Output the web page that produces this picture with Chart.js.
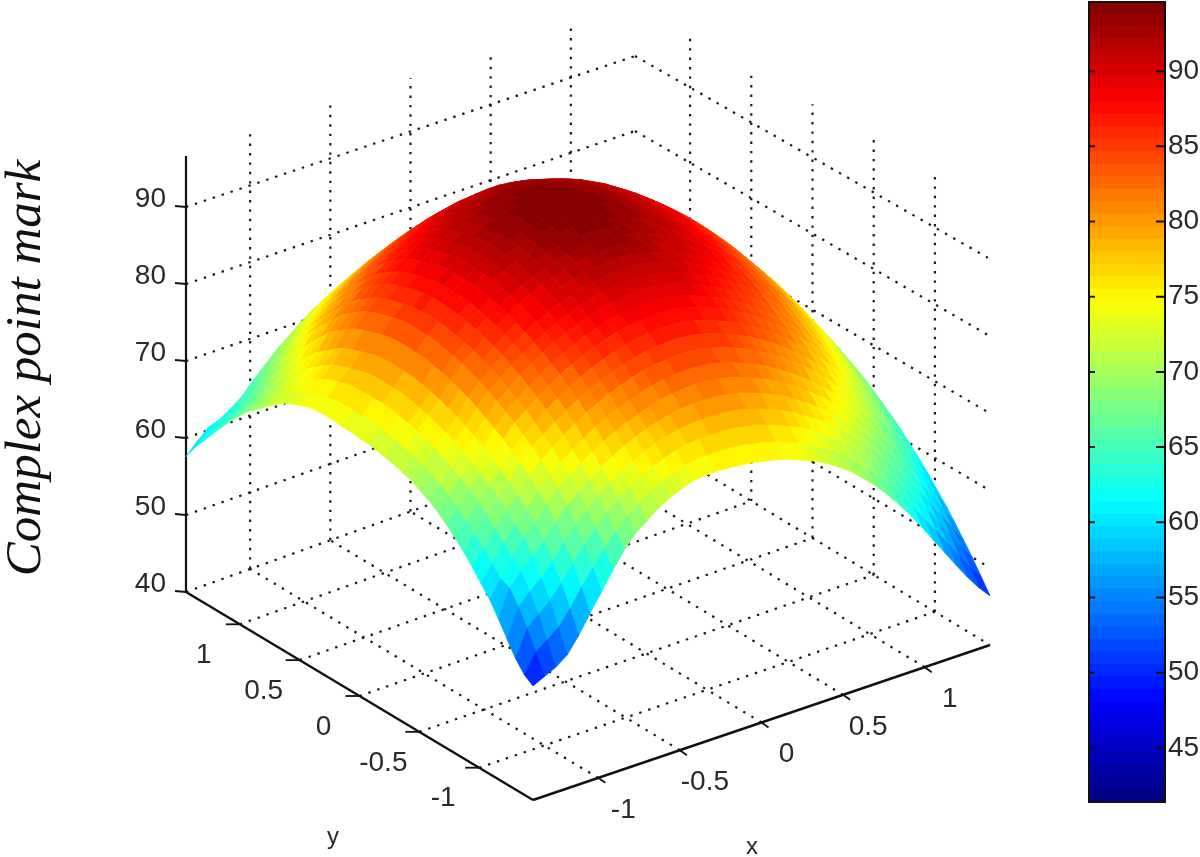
<!DOCTYPE html>
<html><head><meta charset="utf-8">
<style>html,body{margin:0;padding:0;background:#fff;width:1200px;height:857px;overflow:hidden}
canvas{position:absolute;top:0}</style>
<script src="https://cdn.jsdelivr.net/npm/chart.js@4"></script></head>
<body>
<canvas id="main" width="1085" height="857" style="left:0"></canvas>
<canvas id="bar" width="115" height="857" style="left:1085px"></canvas>
<script>
const xGrid=[-1.4,-1.33,-1.26,-1.19,-1.12,-1.05,-0.98,-0.91,-0.84,-0.77,-0.7,-0.63,-0.56,-0.49,-0.42,-0.35,-0.28,-0.21,-0.14,-0.07,0,0.07,0.14,0.21,0.28,0.35,0.42,0.49,0.56,0.63,0.7,0.77,0.84,0.91,0.98,1.05,1.12,1.19,1.26,1.33,1.4];
const yGrid=[-1.45,-1.3775,-1.305,-1.2325,-1.16,-1.0875,-1.015,-0.9425,-0.87,-0.7975,-0.725,-0.6525,-0.58,-0.5075,-0.435,-0.3625,-0.29,-0.2175,-0.145,-0.0725,0,0.0725,0.145,0.2175,0.29,0.3625,0.435,0.5075,0.58,0.6525,0.725,0.7975,0.87,0.9425,1.015,1.0875,1.16,1.2325,1.305,1.3775,1.45];
const zTable=[
[49,50,51,52.4,54.8,57.6,60.3,63,65.5,67.6,69,70.5,71.6,72.5,73.3,73.7,74,74.1,74.2,74.2,74.1,74,73.8,73.4,73,72.5,71.8,71,70,68.8,67.5,66,64.3,62.5,60.5,58.4,56.3,54.2,52.2,50.4,48.9],
[50,52.9,54.2,55.7,57.9,60.6,63,65.3,67.5,69.3,70.7,72,73.1,73.9,74.7,75.2,75.5,75.7,75.9,75.9,75.8,75.7,75.5,75,74.6,74.1,73.3,72.5,71.5,70.4,69.1,67.7,66.1,64.4,62.5,60.5,58.5,56.4,54.4,52.4,50.7],
[51.7,55.6,57.2,58.8,60.9,63.3,65.6,67.6,69.5,71.1,72.4,73.6,74.6,75.4,76.2,76.7,77.1,77.3,77.5,77.6,77.5,77.4,77.1,76.7,76.2,75.7,74.9,74.1,73.1,72,70.8,69.4,67.8,66.2,64.4,62.5,60.6,58.5,56.5,54.4,52.5],
[53.9,58,59.8,61.4,63.4,65.7,67.8,69.5,71.2,72.7,73.9,75,76,76.8,77.5,78.1,78.5,78.8,79,79.1,79.1,78.9,78.6,78.2,77.7,77.1,76.3,75.5,74.5,73.5,72.3,70.9,69.4,67.8,66.1,64.3,62.4,60.4,58.3,56.2,54.1],
[56.2,60.1,62.1,63.8,65.6,67.9,69.9,71.4,72.9,74.2,75.4,76.5,77.4,78.2,78.9,79.5,80,80.3,80.5,80.6,80.6,80.4,80.1,79.7,79.2,78.6,77.8,77,76,75,73.8,72.4,71,69.5,67.8,66,64.2,62.2,60.1,57.9,55.7],
[58.3,60.8,63.5,65.8,67.6,69.8,71.7,73.1,74.5,75.7,76.9,77.9,78.8,79.6,80.3,80.9,81.4,81.7,82,82.1,82.1,81.9,81.6,81.1,80.6,80,79.2,78.4,77.4,76.4,75.2,73.9,72.5,71,69.4,67.6,65.8,63.8,61.7,59.5,57.2],
[60,62.3,64.9,67.1,68.9,71.1,73,74.4,75.8,77,78.2,79.2,80.1,80.9,81.6,82.2,82.7,83,83.3,83.4,83.4,83.2,82.9,82.4,81.9,81.3,80.5,79.7,78.7,77.7,76.5,75.2,73.8,72.3,70.7,68.9,67.1,65.1,63,60.8,58.5],
[61.7,63.9,66.4,68.5,70.3,72.5,74.4,75.8,77.2,78.4,79.6,80.6,81.5,82.3,83,83.6,84.1,84.4,84.7,84.8,84.8,84.6,84.3,83.8,83.3,82.7,81.9,81.1,80.1,79.1,77.9,76.6,75.2,73.7,72.1,70.3,68.5,66.5,64.4,62.2,59.9],
[63.3,65.4,67.7,69.7,71.5,73.7,75.6,77,78.4,79.6,80.8,81.8,82.7,83.5,84.2,84.8,85.3,85.6,85.9,86,86,85.8,85.5,85,84.5,83.9,83.1,82.3,81.3,80.3,79.1,77.8,76.4,74.9,73.3,71.5,69.7,67.7,65.6,63.4,61.1],
[64.7,66.6,68.9,70.8,72.6,74.8,76.7,78.1,79.5,80.7,81.9,82.9,83.8,84.6,85.3,85.9,86.4,86.7,87,87.1,87.1,86.9,86.6,86.1,85.6,85,84.2,83.4,82.4,81.4,80.2,78.9,77.5,76,74.4,72.6,70.8,68.8,66.7,64.5,62.2],
[66,67.9,70.2,71.9,73.7,75.9,77.8,79.2,80.6,81.8,83,84,84.9,85.7,86.4,87,87.5,87.8,88.1,88.2,88.2,88,87.7,87.2,86.7,86.1,85.3,84.5,83.5,82.5,81.3,80,78.6,77.1,75.5,73.7,71.9,69.9,67.8,65.6,63.3],
[67.2,69,71.1,72.8,74.6,76.8,78.7,80.1,81.5,82.7,83.9,84.9,85.8,86.6,87.3,87.9,88.4,88.7,89,89.1,89.1,88.9,88.6,88.1,87.6,87,86.2,85.4,84.4,83.4,82.2,80.9,79.5,78,76.4,74.6,72.8,70.8,68.7,66.5,64.2],
[68.2,69.9,72,73.7,75.5,77.7,79.6,81,82.4,83.6,84.8,85.8,86.7,87.5,88.2,88.8,89.3,89.6,89.9,90,90,89.8,89.5,89,88.5,87.9,87.1,86.3,85.3,84.3,83.1,81.8,80.4,78.9,77.3,75.5,73.7,71.7,69.6,67.4,65.1],
[69,70.7,72.8,74.5,76.3,78.5,80.4,81.8,83.2,84.4,85.6,86.6,87.5,88.3,89,89.6,90.1,90.4,90.7,90.8,90.8,90.6,90.3,89.8,89.3,88.7,87.9,87.1,86.1,85.1,83.9,82.6,81.2,79.7,78.1,76.3,74.5,72.5,70.4,68.2,65.9],
[69.8,71.5,73.6,75.3,77.1,79.3,81.2,82.6,84,85.2,86.4,87.4,88.3,89.1,89.8,90.4,90.9,91.2,91.5,91.6,91.6,91.4,91.1,90.6,90.1,89.5,88.7,87.9,86.9,85.9,84.7,83.4,82,80.5,78.9,77.1,75.3,73.3,71.2,69,66.7],
[70.4,72.1,74.2,75.9,77.7,79.9,81.8,83.2,84.6,85.8,87,88,88.9,89.7,90.4,91,91.5,91.8,92.1,92.2,92.2,92,91.7,91.2,90.7,90.1,89.3,88.5,87.5,86.5,85.3,84,82.6,81.1,79.5,77.7,75.9,73.9,71.8,69.6,67.3],
[71,72.7,74.8,76.5,78.3,80.5,82.4,83.8,85.2,86.4,87.6,88.6,89.5,90.3,91,91.6,92.1,92.4,92.7,92.8,92.8,92.6,92.3,91.8,91.3,90.7,89.9,89.1,88.1,87.1,85.9,84.6,83.2,81.7,80.1,78.3,76.5,74.5,72.4,70.2,67.9],
[71.4,73.2,75.3,77,78.8,81,82.9,84.3,85.7,86.9,88.1,89.1,90,90.8,91.5,92.1,92.6,92.9,93.2,93.3,93.3,93.1,92.8,92.3,91.8,91.2,90.4,89.6,88.6,87.6,86.4,85.1,83.7,82.2,80.6,78.8,77,75,72.9,70.7,68.4],
[71.8,73.6,75.7,77.4,79.2,81.4,83.3,84.7,86.1,87.3,88.5,89.5,90.4,91.2,91.9,92.5,93,93.3,93.6,93.7,93.7,93.5,93.2,92.7,92.2,91.6,90.8,90,89,88,86.8,85.5,84.1,82.6,81,79.2,77.4,75.4,73.3,71.1,68.8],
[72.2,74,76.1,77.8,79.6,81.8,83.7,85.1,86.5,87.7,88.9,89.9,90.8,91.6,92.3,92.9,93.4,93.7,94,94.1,94.1,93.9,93.6,93.1,92.6,92,91.2,90.4,89.4,88.4,87.2,85.9,84.5,83,81.4,79.6,77.8,75.8,73.7,71.5,69.2],
[72.4,74.2,76.3,78,79.8,82,83.9,85.3,86.7,87.9,89.1,90.1,91,91.8,92.5,93.1,93.6,93.9,94.2,94.3,94.3,94.1,93.8,93.3,92.8,92.2,91.4,90.6,89.6,88.6,87.4,86.1,84.7,83.2,81.6,79.8,78,76,73.9,71.7,69.4],
[72.7,74.4,76.5,78.2,80,82.2,84.1,85.5,86.9,88.1,89.3,90.3,91.2,92,92.7,93.3,93.8,94.1,94.4,94.5,94.5,94.3,94,93.5,93,92.4,91.6,90.8,89.8,88.8,87.6,86.3,84.9,83.4,81.8,80,78.2,76.2,74.1,71.9,69.6],
[72.9,74.6,76.6,78.3,80.1,82.3,84.2,85.6,87,88.2,89.4,90.4,91.3,92.1,92.8,93.4,93.9,94.2,94.5,94.6,94.6,94.4,94.1,93.6,93.1,92.5,91.7,90.9,89.9,88.9,87.7,86.4,85,83.5,81.9,80.1,78.3,76.3,74.2,72,69.7],
[73.2,74.8,76.7,78.3,80.1,82.3,84.2,85.6,87,88.2,89.4,90.4,91.3,92.1,92.8,93.4,93.9,94.2,94.5,94.6,94.6,94.4,94.1,93.6,93.1,92.5,91.7,90.9,89.9,88.9,87.7,86.4,85,83.5,81.9,80.1,78.3,76.3,74.2,72,69.7],
[73.4,74.9,76.7,78.1,79.9,82.1,84,85.4,86.8,88,89.2,90.2,91.1,91.9,92.6,93.2,93.7,94,94.3,94.4,94.4,94.2,93.9,93.4,92.9,92.3,91.5,90.7,89.7,88.7,87.5,86.2,84.8,83.3,81.7,79.9,78.1,76.1,74,71.8,69.5],
[73.5,74.8,76.4,77.8,79.6,81.8,83.7,85.1,86.5,87.7,88.9,89.9,90.8,91.6,92.3,92.9,93.4,93.7,94,94.1,94.1,93.9,93.6,93.1,92.6,92,91.2,90.4,89.4,88.4,87.2,85.9,84.5,83,81.4,79.6,77.8,75.8,73.7,71.5,69.2],
[73.4,74.6,76.1,77.5,79.3,81.5,83.4,84.8,86.2,87.4,88.6,89.6,90.5,91.3,92,92.6,93.1,93.4,93.7,93.8,93.8,93.6,93.3,92.8,92.3,91.7,90.9,90.1,89.1,88.1,86.9,85.6,84.2,82.7,81.1,79.3,77.5,75.5,73.4,71.2,68.9],
[73.1,74.2,75.6,77.1,78.9,81.1,83,84.4,85.8,87,88.2,89.2,90.1,90.9,91.6,92.2,92.7,93,93.3,93.4,93.4,93.2,92.9,92.4,91.9,91.3,90.5,89.7,88.7,87.7,86.5,85.2,83.8,82.3,80.7,78.9,77.1,75.1,73,70.8,68.5],
[72.7,73.8,75,76.4,78.2,80.4,82.3,83.7,85.1,86.3,87.5,88.5,89.4,90.2,90.9,91.5,92,92.3,92.6,92.7,92.7,92.5,92.2,91.7,91.2,90.6,89.8,89,88,87,85.8,84.5,83.1,81.6,80,78.2,76.4,74.4,72.3,70.1,67.8],
[72.2,73.2,74.3,75.6,77.4,79.6,81.5,82.9,84.3,85.5,86.7,87.7,88.6,89.4,90.1,90.7,91.2,91.5,91.8,91.9,91.9,91.7,91.4,90.9,90.4,89.8,89,88.2,87.2,86.2,85,83.7,82.3,80.8,79.2,77.4,75.6,73.6,71.5,69.3,67],
[71.4,72.4,73.4,74.8,76.6,78.8,80.6,82,83.4,84.6,85.8,86.8,87.7,88.5,89.2,89.8,90.3,90.6,90.9,91,91,90.8,90.5,90,89.5,88.9,88.1,87.3,86.3,85.3,84.1,82.8,81.4,79.9,78.3,76.5,74.7,72.7,70.6,68.4,66.1],
[70.5,71.4,72.4,73.6,75.4,77.5,79.3,80.7,82.1,83.3,84.5,85.5,86.4,87.2,87.9,88.5,89,89.3,89.6,89.7,89.7,89.5,89.2,88.7,88.2,87.6,86.8,86,85,84,82.8,81.5,80.1,78.6,77,75.2,73.4,71.4,69.3,67.1,64.8],
[69.6,70.4,71.2,72.5,74.2,76.2,78.1,79.5,80.9,82.1,83.3,84.3,85.2,86,86.7,87.3,87.8,88.1,88.4,88.5,88.5,88.3,88,87.5,87,86.4,85.6,84.8,83.8,82.8,81.6,80.3,78.9,77.4,75.8,74,72.2,70.2,68.1,65.9,63.6],
[68.7,69.3,70,71.2,72.8,74.8,76.7,78.1,79.5,80.7,81.9,82.9,83.8,84.6,85.3,85.9,86.4,86.7,87,87.1,87.1,86.9,86.6,86.1,85.6,85,84.2,83.4,82.4,81.4,80.2,78.9,77.5,76,74.4,72.6,70.8,68.8,66.7,64.5,62.2],
[67.5,68.1,68.7,69.9,71.4,73.3,75.2,76.6,78,79.2,80.4,81.4,82.3,83.1,83.8,84.4,84.9,85.2,85.5,85.6,85.6,85.4,85.1,84.6,84.1,83.5,82.7,81.9,80.9,79.9,78.7,77.4,76,74.5,72.9,71.1,69.3,67.3,65.2,63,60.7],
[66.2,66.8,67.3,68.4,69.9,71.8,73.7,75.1,76.5,77.7,78.9,79.9,80.8,81.6,82.3,82.9,83.4,83.7,84,84.1,84.1,83.9,83.6,83.1,82.6,82,81.2,80.4,79.4,78.4,77.2,75.9,74.5,73,71.4,69.6,67.8,65.8,63.7,61.5,59.2],
[64.8,65.5,66,67,68.4,70.3,72.1,73.5,74.9,76.1,77.3,78.3,79.2,80,80.7,81.3,81.8,82.1,82.4,82.5,82.5,82.3,82,81.5,81,80.4,79.6,78.8,77.8,76.8,75.6,74.3,72.9,71.4,69.8,68,66.2,64.2,62.1,59.9,57.6],
[63.3,64.1,64.8,65.6,66.9,68.7,70.5,71.9,73.3,74.5,75.7,76.7,77.6,78.4,79.1,79.7,80.2,80.5,80.8,80.9,80.9,80.7,80.4,79.9,79.4,78.8,78,77.2,76.2,75.2,74,72.7,71.3,69.8,68.2,66.4,64.6,62.6,60.5,58.3,56],
[61.8,62.7,63.6,64.3,65.5,67,68.8,70.2,71.6,72.8,74,75,75.9,76.7,77.4,78,78.5,78.8,79.1,79.2,79.2,79,78.7,78.2,77.7,77.1,76.3,75.5,74.5,73.5,72.3,71,69.6,68.1,66.5,64.7,62.9,60.9,58.8,56.6,54.3],
[60.3,61.4,62.4,63,64,65.3,67.1,68.5,69.9,71.1,72.3,73.3,74.2,75,75.7,76.3,76.8,77.1,77.4,77.5,77.5,77.3,77,76.5,76,75.4,74.6,73.8,72.8,71.8,70.6,69.3,67.9,66.4,64.8,63,61.2,59.2,57.1,54.9,52.6],
[58.5,60,61.3,61.8,62.7,63.8,65.4,66.8,68.2,69.4,70.6,71.6,72.5,73.3,74,74.6,75.1,75.4,75.7,75.8,75.8,75.6,75.3,74.8,74.3,73.7,72.9,72.1,71.1,70.1,68.9,67.6,66.2,64.7,63.1,61.3,59.5,57.5,55.4,53.2,50.9]
];
const xTicks=[-1,-0.5,0,0.5,1];
const yTicks=[-1,-0.5,0,0.5,1];
const zTicks=[40,50,60,70,80,90];
const barTicks=[45,50,55,60,65,70,75,80,85,90];

// view constants of the 3D box
const Lx=1.4,Ly=1.45,zTop=97,cMin=41.4,cMax=94.6,levels=64;
const F=[533,800],R=[990,645],Lf=[186,592],K=[635,431];
function weights(u,v){const a=(u+Lx)/(2*Lx),b=(v+Ly)/(2*Ly);return [(1-a)*(1-b),a*(1-b),(1-a)*b,a*b];}
function mix(w,f,r,l,k){return w[0]*f+w[1]*r+w[2]*l+w[3]*k;}
function wall(u,v,z){const w=weights(u,v);return {x:mix(w,F[0],R[0],Lf[0],K[0]),y:mix(w,F[1],R[1],Lf[1],K[1])-mix(w,8,7.72,7.7,7.5)*(z-40)};}
function surf(u,v,z){const w=weights(u,v);return {x:mix(w,F[0],R[0],Lf[0],K[0]),y:mix(w,F[1],R[1],Lf[1],K[1])-7.13*(z-mix(w,33,42,39.5,36.5))};}
function clamp(a){return Math.max(0,Math.min(1,a));}
function jet(i){const t=(i+0.5)/levels;
 const r=clamp(Math.min(4*t-1.5,-4*t+4.5)),g=clamp(Math.min(4*t-0.5,-4*t+3.5)),b=clamp(Math.min(4*t+0.5,-4*t+2.5));
 return `rgb(${Math.round(r*255)},${Math.round(g*255)},${Math.round(b*255)})`;}
function levelOf(z){return Math.max(0,Math.min(levels-1,Math.floor((z-cMin)/(cMax-cMin)*levels)));}

const cells=[];
for(let j=0;j<yGrid.length-1;j++)for(let i=0;i<xGrid.length-1;i++){
 const z=[zTable[j][i],zTable[j][i+1],zTable[j+1][i+1],zTable[j+1][i]];
 const m=(z[0]+z[1]+z[2]+z[3])/4;
 const c=jet(levelOf(m));
 const p=[surf(xGrid[i],yGrid[j],z[0]),surf(xGrid[i+1],yGrid[j],z[1]),surf(xGrid[i+1],yGrid[j+1],z[2]),surf(xGrid[i],yGrid[j+1],z[3])];
 cells.push({k:i+j,ds:{data:[...p,p[0]],fill:'shape',backgroundColor:c,borderColor:c,borderWidth:0.8,pointRadius:0,tension:0}});
}
cells.sort((a,b)=>a.k-b.k);
const datasets=cells.map(c=>c.ds);
function solid(a,w){datasets.push({data:a,borderColor:'#111',borderWidth:w||2,pointRadius:0,fill:false});}
function dotted(a){datasets.push({data:a,borderColor:'#1a1a1a',borderWidth:2.2,borderDash:[2.4,7],pointRadius:0,fill:false});}
// axes
const zAxisTop=156;
solid([wall(-Lx,Ly,40),{x:Lf[0],y:zAxisTop}],2.2);
solid([wall(-Lx,Ly,40),wall(-Lx,-Ly,40)],2.4);
solid([wall(-Lx,-Ly,40),wall(Lx,-Ly,40)],2.4);
zTicks.forEach(z=>{const p=wall(-Lx,Ly,z);solid([{x:p.x-11,y:p.y-1},p],1.8);});
yTicks.forEach(v=>{const p=wall(-Lx,v,40);solid([{x:p.x-14,y:p.y},p],1.8);});
xTicks.forEach(u=>{const p=wall(u,-Ly,40);solid([p,{x:p.x+7,y:p.y+5}],1.8);});
// walls and floor
zTicks.forEach(z=>{dotted([wall(-Lx,Ly,z),wall(Lx,Ly,z)]);dotted([wall(Lx,Ly,z),wall(Lx,-Ly,z)]);});
xTicks.forEach(u=>{dotted([wall(u,Ly,40),wall(u,Ly,zTop)]);dotted([wall(u,-Ly,40),wall(u,Ly,40)]);});
yTicks.forEach(v=>{dotted([wall(Lx,v,40),wall(Lx,v,zTop)]);dotted([wall(-Lx,v,40),wall(Lx,v,40)]);});

const labelFont='28px "Liberation Sans"',textColor='#2a2a2a';
const textPlugin={id:'boxText',afterDraw(ch){
 const c=ch.ctx,sx=ch.scales.x,sy=ch.scales.y;
 const put=(t,x,y)=>c.fillText(t,sx.getPixelForValue(x),sy.getPixelForValue(y));
 c.save();c.fillStyle=textColor;c.font=labelFont;c.textBaseline='middle';
 c.textAlign='right';zTicks.forEach(z=>{const p=wall(-Lx,Ly,z);put(String(z),p.x-20,p.y-8);});
 c.textAlign='center';
 yTicks.forEach(v=>{const p=wall(-Lx,v,40);put(String(v),p.x-36,p.y+31);});
 xTicks.forEach(u=>{const p=wall(u,-Ly,40);put(String(u),p.x+25,p.y+32);});
 c.font='24px "Liberation Sans"';put('y',333,837);put('x',752,847);
 c.translate(sx.getPixelForValue(27),sy.getPixelForValue(368));c.rotate(-Math.PI/2);
 c.font='italic 51px "Liberation Serif"';c.fillStyle='#111';c.fillText('Complex point mark',0,0);
 c.restore();
}};
new Chart(document.getElementById('main'),{type:'line',data:{datasets},plugins:[textPlugin],
 options:{responsive:false,animation:false,events:[],parsing:false,normalized:false,
  layout:{padding:0},
  plugins:{legend:{display:false},tooltip:{enabled:false},title:{display:false}},
  scales:{x:{type:'linear',min:0,max:1085,display:false},y:{type:'linear',min:0,max:857,reverse:true,display:false}}}});

// colour bar
const bandDatasets=[];
for(let i=0;i<levels;i++){const h=(cMax-cMin)/levels;
 bandDatasets.push({data:[[cMin+i*h,cMin+(i+1)*h+0.02]],backgroundColor:jet(i),borderWidth:0,barPercentage:1,categoryPercentage:1,grouped:false});}
const barPlugin={id:'barFrame',afterDraw(ch){
 const c=ch.ctx,a=ch.chartArea,s=ch.scales.y;c.save();c.strokeStyle='#111';c.lineWidth=2;
 c.strokeRect(a.left,a.top,a.right-a.left,a.bottom-a.top);
 barTicks.forEach(t=>{const y=s.getPixelForValue(t);c.beginPath();c.moveTo(a.left,y);c.lineTo(a.left+6,y);c.moveTo(a.right-9,y);c.lineTo(a.right,y);c.stroke();});
 c.restore();}};
new Chart(document.getElementById('bar'),{type:'bar',data:{labels:[''],datasets:bandDatasets},plugins:[barPlugin],
 options:{responsive:false,animation:false,events:[],layout:{padding:{left:4,top:2,bottom:55,right:0}},
  plugins:{legend:{display:false},tooltip:{enabled:false}},
  scales:{x:{display:false},
   y:{position:'right',min:cMin,max:cMax,grid:{display:false,drawTicks:false},border:{display:false},
    afterBuildTicks(s){s.ticks=barTicks.map(v=>({value:v}));},
    afterFit(s){s.width=35;s.paddingTop=0;s.paddingBottom=0;},
    ticks:{autoSkip:false,padding:3,color:textColor,font:{family:'Liberation Sans',size:28},callback:v=>String(v)}}}}});
</script>
</body></html>
